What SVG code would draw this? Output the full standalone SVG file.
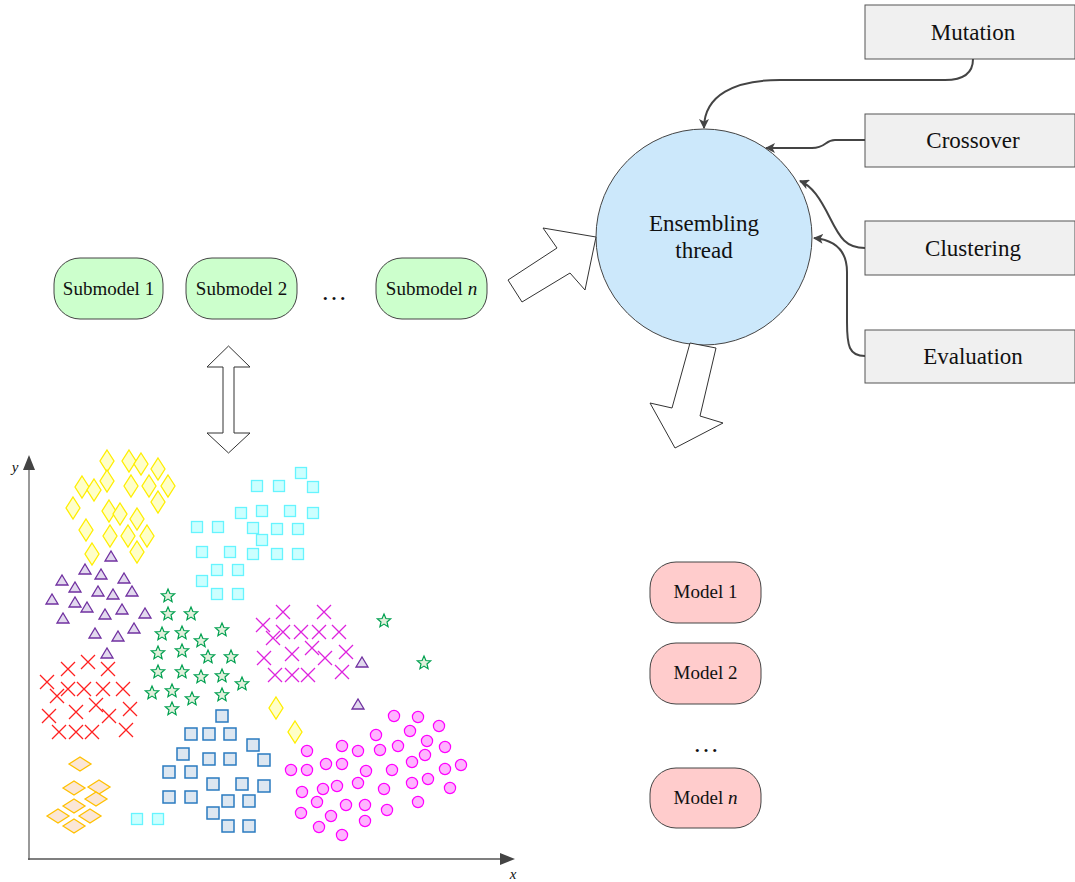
<svg xmlns="http://www.w3.org/2000/svg" width="1075" height="882" viewBox="0 0 1075 882">
<style>
.lbl{font-family:"Liberation Serif","Times New Roman",serif;fill:#111;text-anchor:middle}
.sub{fill:#ccffcc;stroke:#444;stroke-width:1}
.mod{fill:#ffcccc;stroke:#444;stroke-width:1}
.box{fill:#f0f0f0;stroke:#555;stroke-width:1}
.conn{fill:none;stroke:#444;stroke-width:2}
.big{fill:#fff;stroke:#333;stroke-width:1}
</style>
<defs>
<marker id="ah" markerWidth="10" markerHeight="10" refX="9" refY="5" orient="auto" markerUnits="userSpaceOnUse">
<path d="M0,0 L10,5 L0,10 L2.5,5 Z" fill="#444"/>
</marker>
<path id="dy" d="M0,-11 L7,0 L0,11 L-7,0 Z" fill="#ffffc8" stroke="#ffee00" stroke-width="1.3"/>
<path id="do" d="M-11,0 L0,-7 L11,0 L0,7 Z" fill="#fbe6d6" stroke="#ffc000" stroke-width="1.3"/>
<path id="tr" d="M-6,5 L0,-5 L6,5 Z" fill="#e2d9ee" stroke="#7030a0" stroke-width="1.3"/>
<path id="xr" d="M-7,-7 L7,7 M-7,7 L7,-7" stroke="#ff2020" stroke-width="1.3" fill="none"/>
<path id="xm" d="M-7,-7 L7,7 M-7,7 L7,-7" stroke="#dd22dd" stroke-width="1.3" fill="none"/>
<path id="st" d="M0,-7 L1.9,-2.5 L6.7,-2.2 L3,1 L4.1,5.7 L0,3.1 L-4.1,5.7 L-3,1 L-6.7,-2.2 L-1.9,-2.5 Z" fill="#e2f0dc" stroke="#00a050" stroke-width="1.2"/>
<rect id="sc" x="-5.5" y="-5.5" width="11" height="11" fill="#ccffff" stroke="#66f4ff" stroke-width="1.3"/>
<rect id="sb" x="-6" y="-6" width="12" height="12" fill="#dde7f1" stroke="#2a7bc0" stroke-width="1.5"/>
<circle id="ci" r="5.6" fill="#ffb3ff" stroke="#ff00ff" stroke-width="1.2"/>
</defs>

<g id="axes">
<line x1="29" y1="466" x2="29" y2="860" stroke="#999" stroke-width="2"/>
<path d="M23,470 L29,455 L35,470 Z" fill="#444"/>
<line x1="28" y1="859" x2="502" y2="859" stroke="#555" stroke-width="1.5"/>
<path d="M500,853 L515,859 L500,865 Z" fill="#444"/>
<text x="15" y="472" font-family="Liberation Serif,serif" font-style="italic" font-size="15" fill="#111" text-anchor="middle">y</text>
<text x="513" y="879" font-family="Liberation Serif,serif" font-style="italic" font-size="15" fill="#111" text-anchor="middle">x</text>
</g>

<g id="scatter">
<g id="yellow-diamonds">
<use href="#dy" x="107" y="461"/><use href="#dy" x="129" y="461"/><use href="#dy" x="141" y="464"/><use href="#dy" x="158" y="469"/>
<use href="#dy" x="107" y="481"/><use href="#dy" x="82" y="487"/><use href="#dy" x="94" y="490"/><use href="#dy" x="131" y="486"/>
<use href="#dy" x="149" y="486"/><use href="#dy" x="168" y="486"/><use href="#dy" x="158" y="502"/><use href="#dy" x="73" y="508"/>
<use href="#dy" x="109" y="511"/><use href="#dy" x="120" y="514"/><use href="#dy" x="137" y="519"/><use href="#dy" x="86" y="530"/>
<use href="#dy" x="110" y="536"/><use href="#dy" x="128" y="536"/><use href="#dy" x="147" y="536"/><use href="#dy" x="92" y="554"/>
<use href="#dy" x="137" y="552"/><use href="#dy" x="276" y="708"/><use href="#dy" x="295" y="732"/>
</g>
<g id="purple-triangles">
<use href="#tr" x="111" y="556"/><use href="#tr" x="85" y="569"/><use href="#tr" x="101" y="574"/><use href="#tr" x="124" y="578"/>
<use href="#tr" x="62" y="580"/><use href="#tr" x="75" y="587"/><use href="#tr" x="98" y="591"/><use href="#tr" x="113" y="594"/>
<use href="#tr" x="132" y="591"/><use href="#tr" x="52" y="599"/><use href="#tr" x="75" y="602"/><use href="#tr" x="87" y="607"/>
<use href="#tr" x="105" y="614"/><use href="#tr" x="122" y="609"/><use href="#tr" x="145" y="613"/><use href="#tr" x="63" y="618"/>
<use href="#tr" x="95" y="633"/><use href="#tr" x="118" y="636"/><use href="#tr" x="134" y="628"/><use href="#tr" x="107" y="653"/>
<use href="#tr" x="362" y="662"/><use href="#tr" x="358" y="704"/>
</g>
<g id="red-x">
<use href="#xr" x="88" y="662"/><use href="#xr" x="68" y="669"/><use href="#xr" x="108" y="669"/><use href="#xr" x="47" y="682"/>
<use href="#xr" x="68" y="689"/><use href="#xr" x="84" y="689"/><use href="#xr" x="103" y="689"/><use href="#xr" x="123" y="689"/>
<use href="#xr" x="57" y="696"/><use href="#xr" x="96" y="705"/><use href="#xr" x="130" y="709"/><use href="#xr" x="49" y="716"/>
<use href="#xr" x="76" y="712"/><use href="#xr" x="109" y="716"/><use href="#xr" x="59" y="732"/><use href="#xr" x="76" y="732"/>
<use href="#xr" x="92" y="732"/><use href="#xr" x="126" y="730"/>
</g>
<g id="orange-diamonds">
<use href="#do" x="80" y="764"/><use href="#do" x="74" y="788"/><use href="#do" x="99" y="787"/><use href="#do" x="96" y="799"/>
<use href="#do" x="74" y="806"/><use href="#do" x="58" y="816"/><use href="#do" x="90" y="816"/><use href="#do" x="74" y="826"/>
</g>
<g id="cyan-squares">
<use href="#sc" x="301" y="473"/><use href="#sc" x="257" y="486"/><use href="#sc" x="279" y="486"/><use href="#sc" x="313" y="487"/>
<use href="#sc" x="241" y="513"/><use href="#sc" x="262" y="511"/><use href="#sc" x="290" y="511"/><use href="#sc" x="313" y="513"/>
<use href="#sc" x="197" y="527"/><use href="#sc" x="218" y="527"/><use href="#sc" x="253" y="528"/><use href="#sc" x="277" y="529"/>
<use href="#sc" x="298" y="529"/><use href="#sc" x="262" y="540"/><use href="#sc" x="202" y="552"/><use href="#sc" x="230" y="552"/>
<use href="#sc" x="253" y="554"/><use href="#sc" x="277" y="554"/><use href="#sc" x="298" y="554"/><use href="#sc" x="217" y="570"/>
<use href="#sc" x="238" y="570"/><use href="#sc" x="202" y="581"/><use href="#sc" x="217" y="594"/><use href="#sc" x="238" y="594"/>
<use href="#sc" x="137" y="819"/><use href="#sc" x="158" y="819"/>
</g>
<g id="green-stars">
<use href="#st" x="168" y="596"/><use href="#st" x="168" y="614"/><use href="#st" x="191" y="614"/><use href="#st" x="162" y="634"/>
<use href="#st" x="182" y="633"/><use href="#st" x="222" y="630"/><use href="#st" x="201" y="641"/><use href="#st" x="158" y="653"/>
<use href="#st" x="182" y="651"/><use href="#st" x="208" y="657"/><use href="#st" x="231" y="657"/><use href="#st" x="158" y="672"/>
<use href="#st" x="182" y="672"/><use href="#st" x="201" y="677"/><use href="#st" x="222" y="676"/><use href="#st" x="242" y="684"/>
<use href="#st" x="152" y="693"/><use href="#st" x="172" y="691"/><use href="#st" x="192" y="699"/><use href="#st" x="222" y="695"/>
<use href="#st" x="172" y="709"/><use href="#st" x="384" y="621"/><use href="#st" x="424" y="663"/>
</g>
<g id="magenta-x">
<use href="#xm" x="283" y="612"/><use href="#xm" x="324" y="612"/><use href="#xm" x="263" y="625"/><use href="#xm" x="283" y="632"/>
<use href="#xm" x="301" y="632"/><use href="#xm" x="319" y="632"/><use href="#xm" x="339" y="632"/><use href="#xm" x="273" y="638"/>
<use href="#xm" x="312" y="648"/><use href="#xm" x="264" y="658"/><use href="#xm" x="292" y="654"/><use href="#xm" x="325" y="658"/>
<use href="#xm" x="346" y="652"/><use href="#xm" x="275" y="675"/><use href="#xm" x="292" y="675"/><use href="#xm" x="308" y="675"/>
<use href="#xm" x="342" y="672"/>
</g>
<g id="blue-squares">
<use href="#sb" x="222" y="716"/><use href="#sb" x="191" y="734"/><use href="#sb" x="209" y="734"/><use href="#sb" x="230" y="734"/>
<use href="#sb" x="253" y="745"/><use href="#sb" x="183" y="754"/><use href="#sb" x="209" y="759"/><use href="#sb" x="230" y="759"/>
<use href="#sb" x="264" y="760"/><use href="#sb" x="169" y="772"/><use href="#sb" x="191" y="772"/><use href="#sb" x="213" y="784"/>
<use href="#sb" x="242" y="784"/><use href="#sb" x="264" y="786"/><use href="#sb" x="169" y="797"/><use href="#sb" x="191" y="797"/>
<use href="#sb" x="228" y="801"/><use href="#sb" x="249" y="801"/><use href="#sb" x="213" y="813"/><use href="#sb" x="228" y="826"/>
<use href="#sb" x="249" y="826"/>
</g>
<g id="magenta-circles">
<use href="#ci" x="394" y="716"/><use href="#ci" x="418" y="717"/><use href="#ci" x="439" y="726"/><use href="#ci" x="376" y="735"/>
<use href="#ci" x="410" y="731"/><use href="#ci" x="427" y="741"/><use href="#ci" x="445" y="747"/><use href="#ci" x="342" y="746"/>
<use href="#ci" x="358" y="751"/><use href="#ci" x="380" y="750"/><use href="#ci" x="398" y="746"/><use href="#ci" x="307" y="751"/>
<use href="#ci" x="425" y="755"/><use href="#ci" x="412" y="762"/><use href="#ci" x="461" y="765"/><use href="#ci" x="291" y="770"/>
<use href="#ci" x="307" y="770"/><use href="#ci" x="326" y="764"/><use href="#ci" x="342" y="764"/><use href="#ci" x="366" y="771"/>
<use href="#ci" x="392" y="770"/><use href="#ci" x="445" y="769"/><use href="#ci" x="428" y="779"/><use href="#ci" x="412" y="783"/>
<use href="#ci" x="358" y="783"/><use href="#ci" x="337" y="786"/><use href="#ci" x="323" y="789"/><use href="#ci" x="384" y="789"/>
<use href="#ci" x="450" y="788"/><use href="#ci" x="302" y="792"/><use href="#ci" x="317" y="802"/><use href="#ci" x="346" y="805"/>
<use href="#ci" x="365" y="805"/><use href="#ci" x="418" y="802"/><use href="#ci" x="387" y="810"/><use href="#ci" x="301" y="813"/>
<use href="#ci" x="331" y="816"/><use href="#ci" x="319" y="827"/><use href="#ci" x="365" y="821"/><use href="#ci" x="342" y="835"/>
</g>
</g>

<g id="submodel-1"><rect class="sub" x="54" y="258" width="109" height="61" rx="26"/><text class="lbl" x="108.5" y="295" font-size="19">Submodel 1</text></g>
<g id="submodel-2"><rect class="sub" x="186" y="258" width="111" height="61" rx="26"/><text class="lbl" x="241.5" y="295" font-size="19">Submodel 2</text></g>
<g id="submodel-dots"><text class="lbl" x="334" y="300" font-size="26">…</text></g>
<g id="submodel-n"><rect class="sub" x="376" y="258" width="111" height="61" rx="26"/><text class="lbl" x="431.5" y="295" font-size="19">Submodel <tspan font-style="italic">n</tspan></text></g>

<g id="ensembling-thread"><circle cx="704" cy="237" r="108" fill="#cce8fb" stroke="#444" stroke-width="1"/>
<text class="lbl" x="704" y="231" font-size="23">Ensembling</text><text class="lbl" x="704" y="258" font-size="23">thread</text></g>

<g id="mutation"><rect class="box" x="865" y="5" width="210" height="54"/><text class="lbl" x="973" y="40" font-size="23">Mutation</text></g>
<g id="crossover"><rect class="box" x="865" y="114" width="210" height="53"/><text class="lbl" x="973" y="148" font-size="23">Crossover</text></g>
<g id="clustering"><rect class="box" x="865" y="221" width="210" height="54"/><text class="lbl" x="973" y="256" font-size="23">Clustering</text></g>
<g id="evaluation"><rect class="box" x="865" y="330" width="210" height="53"/><text class="lbl" x="973" y="364" font-size="23">Evaluation</text></g>

<g id="model-1"><rect class="mod" x="650" y="562" width="111" height="61" rx="26"/><text class="lbl" x="705.5" y="598" font-size="19">Model 1</text></g>
<g id="model-2"><rect class="mod" x="650" y="643" width="111" height="61" rx="26"/><text class="lbl" x="705.5" y="679" font-size="19">Model 2</text></g>
<g id="model-dots"><text class="lbl" x="706" y="752" font-size="26">…</text></g>
<g id="model-n"><rect class="mod" x="650" y="768" width="111" height="60" rx="26"/><text class="lbl" x="705.5" y="804" font-size="19">Model <tspan font-style="italic">n</tspan></text></g>

<g id="connectors">
<path class="conn" d="M973,59 Q973,80 945,80 L780,80 C735,80 704,95 704,128" marker-end="url(#ah)"/>
<path class="conn" d="M865,140 L835,140 C825,140 826,148 812,148 L766,148" marker-end="url(#ah)"/>
<path class="conn" d="M865,248 C846,248 840,238 830,218 C820,198 812,186 800,181" marker-end="url(#ah)"/>
<path class="conn" d="M865,356 C849,356 847,346 847,322 L847,272 C847,250 835,240 814,238" marker-end="url(#ah)"/>
<path class="big" d="M228.5,346 L250,367 L234,367 L234,433 L250,433 L228.5,453 L207,433 L223,433 L223,367 L207,367 Z"/>
<path class="big" d="M508,280 L522,302 L570,273 L585,290 L596,237 L543,228 L557,248 Z"/>
<path class="big" d="M690,343 L716,348 L700,416 L723,423 L675,448 L650,403 L672,408 Z"/>
</g>
</svg>
